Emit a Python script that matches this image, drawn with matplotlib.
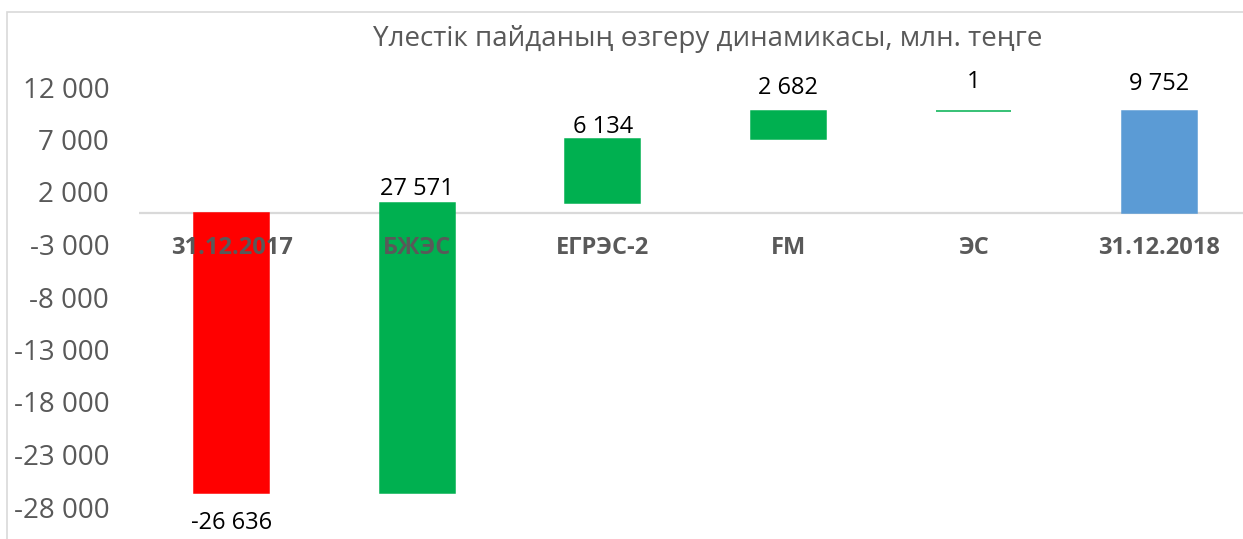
import matplotlib
matplotlib.use("Agg")
import matplotlib.pyplot as plt
from matplotlib.patches import Rectangle
from matplotlib.ticker import FixedLocator, FuncFormatter

plt.rcParams['font.family'] = ['Open Sans', 'DejaVu Sans']

# ---- data ----
title = "Үлестік пайданың өзгеру динамикасы, млн. теңге"
categories = ['31.12.2017', 'БЖЭС', 'ЕГРЭС-2', 'FM', 'ЭС', '31.12.2018']
values = [-26636, 27571, 6134, 2682, 1, 9752]
kinds = ['total', 'delta', 'delta', 'delta', 'delta', 'total']
y_ticks = [12000, 7000, 2000, -3000, -8000, -13000, -18000, -23000, -28000]

# ---- style ----
colors = ['#FF0000', '#00B050', '#00B050', '#00B050', '#00B050', '#5B9BD5']
label_offsets = [-26, 5.8, 4.3, 12.2, 16.6, 15.1]  # points
GRAY = '#595959'
LIGHT = '#D9D9D9'

W, H = 1243, 539
fig = plt.figure(figsize=(W / 100, H / 100), dpi=100)

# outer chart frame (cropped at right/bottom)
fig.patches.append(Rectangle((7 / W, -0.2), 2.0, (H - 12) / H + 0.2,
                             transform=fig.transFigure, fill=False,
                             edgecolor=LIGHT, linewidth=1.2))

ax_left, ax_right = 139 / W, 1252 / W
ax_bot, ax_top = (H - 507) / H, (H - 87) / H
ax = fig.add_axes([ax_left, ax_bot, ax_right - ax_left, ax_top - ax_bot])
ax.set_xlim(-0.5, len(categories) - 0.5)
ax.set_ylim(-28000, 12000)

bottoms, heights = [], []
running = 0
for v, k in zip(values, kinds):
    if k == 'total':
        bottoms.append(0)
        heights.append(v)
        running = v
    else:
        bottoms.append(running)
        heights.append(v)
        running += v

x = list(range(len(categories)))
ax.bar(x, heights, bottom=bottoms, width=0.405, color=colors,
       edgecolor=colors, linewidth=1.1, zorder=2)

ax.axhline(0, color=LIGHT, linewidth=1.6, zorder=1)


def fmt(v):
    s = f"{abs(v):,}".replace(',', ' ')
    return ('-' if v < 0 else '') + s


for i, (b, h, v, off) in enumerate(zip(bottoms, heights, values, label_offsets)):
    top = max(b, b + h)
    low = min(b, b + h)
    ref = top if off > 0 else low
    ax.annotate(fmt(v), xy=(i, ref), xytext=(0, off), textcoords='offset points',
                ha='center', va='baseline', fontsize=17, color='black',
                clip_on=False)

for i, c in enumerate(categories):
    ax.annotate(c, xy=(i, 0), xytext=(0, -25), textcoords='offset points',
                ha='center', va='center', fontsize=17, fontweight='bold',
                color=GRAY, zorder=3)

ax.yaxis.set_major_locator(FixedLocator(y_ticks))
ax.yaxis.set_major_formatter(FuncFormatter(lambda v, p: fmt(int(round(v)))))
ax.tick_params(axis='y', length=0, pad=21.5, labelsize=20, labelcolor=GRAY)
ax.set_xticks([])
for s in ax.spines.values():
    s.set_visible(False)
ax.patch.set_alpha(0)

fig.text(708 / W, (H - 39) / H, title, ha='center', va='center',
         fontsize=20, color=GRAY)

fig.savefig('out.png', dpi=100)
